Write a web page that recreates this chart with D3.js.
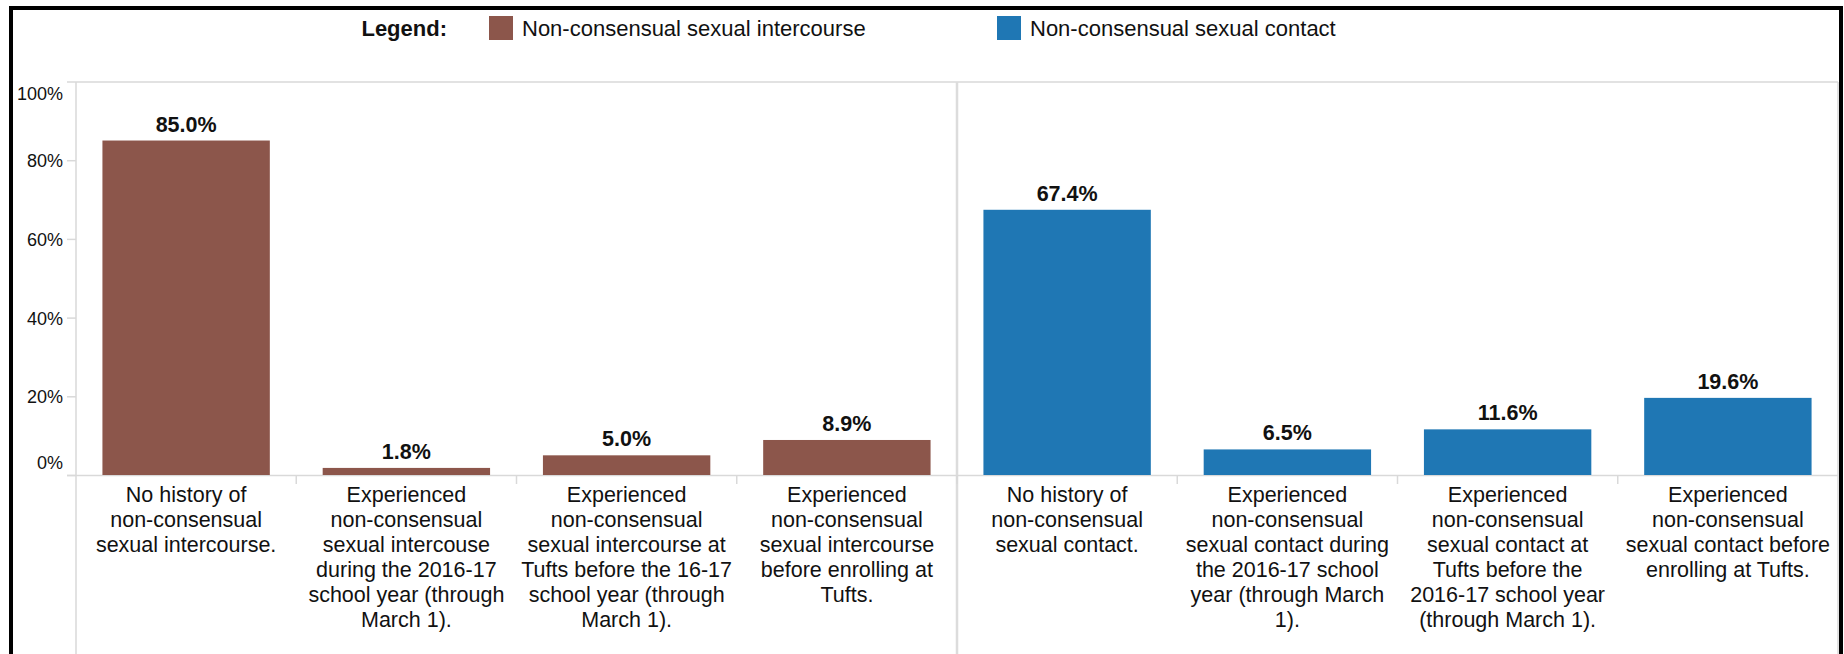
<!DOCTYPE html>
<html>
<head>
<meta charset="utf-8">
<script src="https://cdn.jsdelivr.net/npm/d3@7"></script>
<style>
  html, body { margin: 0; padding: 0; background: #fff; }
  svg { display: block; font-family: "Liberation Sans", Arial, sans-serif; }
</style>
</head>
<body>
<svg id="chart"></svg>
<script>
// Data
const seriesNames = ["Non-consensual sexual intercourse", "Non-consensual sexual contact"];
const seriesColors = ["#8c564b", "#1f77b4"];

const intercourseValues = [0.850, 0.018, 0.050, 0.089];
const contactValues = [0.674, 0.065, 0.116, 0.196];

// category labels, already broken into lines as in the picture
const intercourseLabels = [
  ["No history of", "non-consensual", "sexual intercourse."],
  ["Experienced", "non-consensual", "sexual intercouse", "during the 2016-17", "school year (through", "March 1)."],
  ["Experienced", "non-consensual", "sexual intercourse at", "Tufts before the 16-17", "school year (through", "March 1)."],
  ["Experienced", "non-consensual", "sexual intercourse", "before enrolling at", "Tufts."]
];
const contactLabels = [
  ["No history of", "non-consensual", "sexual contact."],
  ["Experienced", "non-consensual", "sexual contact during", "the 2016-17 school", "year (through March", "1)."],
  ["Experienced", "non-consensual", "sexual contact at", "Tufts before the", "2016-17 school year", "(through March 1)."],
  ["Experienced", "non-consensual", "sexual contact before", "enrolling at Tufts."]
];

const yTicks = [0, 0.2, 0.4, 0.6, 0.8, 1];

// build rows
const rows = [];
intercourseValues.forEach((v, i) => rows.push({ key: "i" + i, series: 0, value: v, lines: intercourseLabels[i] }));
contactValues.forEach((v, i) => rows.push({ key: "c" + i, series: 1, value: v, lines: contactLabels[i] }));

// Set dimensions
const width = 1844;
const height = 654;
const plot = { left: 76, right: 1838, top: 82, bottom: 475 };

const svg = d3.select("#chart")
    .attr("width", width)
    .attr("height", height);

const x = d3.scaleBand()
    .domain(rows.map(d => d.key))
    .range([plot.left, plot.right])
    .paddingInner(0.24)
    .paddingOuter(0.12);

const y = d3.scaleLinear()
    .domain([0, 1])
    .range([plot.bottom, 81.5]);

const grid = "#d9d9d9";

// plot frame lines
svg.append("line")
    .attr("x1", plot.left).attr("x2", plot.right)
    .attr("y1", plot.top).attr("y2", plot.top)
    .attr("stroke", grid).attr("stroke-width", 1.5);
svg.append("line")
    .attr("x1", plot.left).attr("x2", plot.left)
    .attr("y1", plot.top).attr("y2", height)
    .attr("stroke", grid).attr("stroke-width", 1.5);
svg.append("line")
    .attr("x1", plot.right).attr("x2", plot.right)
    .attr("y1", plot.top).attr("y2", height)
    .attr("stroke", grid).attr("stroke-width", 1.5);

// divider between the two panels
const panelSplit = x("c0") - x.step() * x.paddingInner() / 2;
svg.append("line")
    .attr("x1", panelSplit).attr("x2", panelSplit)
    .attr("y1", plot.top).attr("y2", height)
    .attr("stroke", "#dcdcdc").attr("stroke-width", 2.5);

// baseline
svg.append("line")
    .attr("x1", plot.left - 9).attr("x2", plot.right)
    .attr("y1", plot.bottom + 0.5).attr("y2", plot.bottom + 0.5)
    .attr("stroke", grid).attr("stroke-width", 1.5);

// y axis
const yAxis = d3.axisLeft(y)
    .tickValues(yTicks)
    .tickFormat(d3.format(".0%"))
    .tickSize(9)
    .tickPadding(4);

const yg = svg.append("g")
    .attr("transform", `translate(${plot.left},0)`)
    .call(yAxis);
yg.select(".domain").remove();
yg.selectAll(".tick line").attr("stroke", grid).attr("stroke-width", 1.5);
yg.selectAll(".tick text")
    .attr("fill", "#111")
    .style("font-size", "18px")
    .attr("dy", null)
    .attr("y", d => {
        // labels are kept inside the plot band, like the original
        const cy = Math.max(93, Math.min(462, y(d)));
        return cy - y(d) + 6.5;
    });

// column separator ticks under the baseline
const edges = rows.map(d => x(d.key) - x.step() * x.paddingInner() / 2).slice(1);
svg.append("g")
    .selectAll("line")
    .data(edges)
    .join("line")
    .attr("x1", d => d).attr("x2", d => d)
    .attr("y1", plot.bottom).attr("y2", plot.bottom + 9)
    .attr("stroke", grid).attr("stroke-width", 1.5);

// bars
svg.append("g")
    .selectAll("rect")
    .data(rows)
    .join("rect")
    .attr("x", d => x(d.key))
    .attr("y", d => y(d.value))
    .attr("width", x.bandwidth())
    .attr("height", d => y(0) - y(d.value))
    .attr("fill", d => seriesColors[d.series]);

// value labels
svg.append("g")
    .selectAll("text")
    .data(rows)
    .join("text")
    .attr("x", d => x(d.key) + x.bandwidth() / 2)
    .attr("y", d => y(d.value) - 9)
    .attr("text-anchor", "middle")
    .style("font-size", "21.5px")
    .style("font-weight", "bold")
    .attr("fill", "#111")
    .text(d => d3.format(".1%")(d.value));

// category labels
const catText = svg.append("g")
    .selectAll("text")
    .data(rows)
    .join("text")
    .attr("text-anchor", "middle")
    .style("font-size", "21.5px")
    .attr("fill", "#111");

catText.selectAll("tspan")
    .data(d => d.lines.map(l => ({ l, cx: x(d.key) + x.bandwidth() / 2 })))
    .join("tspan")
    .attr("x", d => d.cx)
    .attr("y", (d, i) => 502 + i * 25)
    .text(d => d.l);

// legend
const legend = svg.append("g");
legend.append("text")
    .attr("x", 447)
    .attr("y", 36)
    .attr("text-anchor", "end")
    .style("font-size", "22px")
    .style("font-weight", "bold")
    .attr("fill", "#111")
    .text("Legend:");

const legendX = [489, 997];
const legendItems = legend.selectAll("g.item")
    .data(seriesNames)
    .join("g")
    .attr("class", "item")
    .attr("transform", (d, i) => `translate(${legendX[i]},16)`);
legendItems.append("rect")
    .attr("width", 24)
    .attr("height", 24)
    .attr("fill", (d, i) => seriesColors[i]);
legendItems.append("text")
    .attr("x", 33)
    .attr("y", 20)
    .style("font-size", "22px")
    .attr("fill", "#111")
    .text(d => d);

// outer black frame (bottom edge is cut off in the original)
svg.append("path")
    .attr("d", `M11,${height + 5}V8H1841V${height + 5}`)
    .attr("fill", "none")
    .attr("stroke", "#000")
    .attr("stroke-width", 4);
</script>
</body>
</html>
